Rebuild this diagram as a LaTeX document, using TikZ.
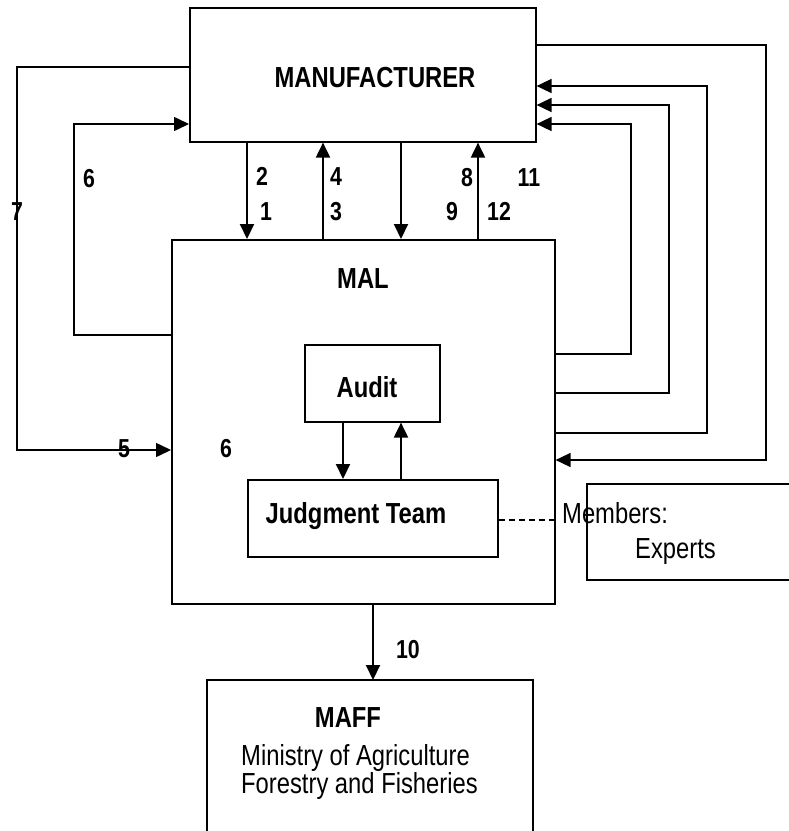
\documentclass[tikz,border=0pt]{standalone}
\usepackage{fontspec}
\setmainfont{Liberation Sans}[FakeStretch=0.82]
\usetikzlibrary{arrows.meta}
\tikzset{
  box/.style={draw, line width=1.6pt, inner sep=0pt, anchor=north west},
  arr/.style={line width=2pt, -{Triangle[length=15pt,width=14pt]}},
  loopline/.style={line width=1.6pt, -{Triangle[length=15pt,width=14pt]}},
  plain/.style={line width=1.5pt},
  lab/.style={font=\bfseries\fontsize{26}{29}\selectfont, anchor=base, inner sep=0pt},
  title/.style={font=\bfseries\fontsize{29}{32}\selectfont, anchor=base, inner sep=0pt},
  txt/.style={font=\fontsize{29}{33}\selectfont, anchor=base west, inner sep=0pt},
}
\begin{document}
\begin{tikzpicture}[x=1pt,y=-1pt]
\useasboundingbox (0,0) rectangle (789,831);
% boxes
\node[box, minimum width=346pt, minimum height=134pt] (man) at (189,7) {};
\node[box, minimum width=383pt, minimum height=364pt] (mal) at (171,239) {};
\node[box, minimum width=135pt, minimum height=77pt] (audit) at (304,344) {};
\node[box, minimum width=250pt, minimum height=77pt] (judg) at (247,479) {};
% open boxes cut by the page edge
\draw[plain] (207,831) -- (207,680) -- (533,680) -- (533,831);
\draw[plain] (789,484) -- (587,484) -- (587,580) -- (789,580);
\coordinate (maffN) at (373,680);
% texts
\node[title] (tman) at (375,87) {MANUFACTURER};
\node[title] (tmal) at (363,288) {MAL};
\node[title] (taud) at (367,397) {Audit};
\node[title] (tjud) at (356,523) {Judgment Team};
\node[title] (tmaff) at (348,727) {MAFF};
\node[txt] (tmin) at (241,765) {Ministry of Agriculture};
\node[txt] (tfor) at (241,793) {Forestry and Fisheries};
\node[txt] (tmem) at (562,523) {Members:};
\node[txt] (texp) at (635,558) {Experts};
% number labels
\node[lab] (l2) at (262,185) {2};
\node[lab] (l1) at (266,220) {1};
\node[lab] (l4) at (336,185) {4};
\node[lab] (l3) at (336,220) {3};
\node[lab] (l8) at (467,186) {8};
\node[lab] (l11) at (529,186) {11};
\node[lab] (l9) at (452,220) {9};
\node[lab] (l12) at (499,220) {12};
\node[lab] (l6a) at (89,187) {6};
\node[lab] (l7) at (17,220) {7};
\node[lab] (l5) at (124,457) {5};
\node[lab] (l6b) at (226,457) {6};
\node[lab] (l10) at (408,658) {10};
% helper coordinates
\coordinate (xa) at (247,0);
\coordinate (xb) at (323,0);
\coordinate (xc) at (401,0);
\coordinate (xd) at (478,0);
\coordinate (xj1) at (343,0);
\coordinate (xj2) at (401,0);
\coordinate (x10) at (373,0);
% vertical arrows between manufacturer and MAL
\draw[arr] (man.south -| xa) -- (mal.north -| xa);
\draw[arr] (mal.north -| xb) -- (man.south -| xb);
\draw[arr] (man.south -| xc) -- (mal.north -| xc);
\draw[arr] (mal.north -| xd) -- (man.south -| xd);
% audit / judgment
\draw[arr] (audit.south -| xj1) -- (judg.north -| xj1);
\draw[arr] (judg.north -| xj2) -- (audit.south -| xj2);
% MAL to MAFF
\draw[arr] (mal.south -| x10) -- (maffN);
% left loops
\coordinate (y7) at (0,67);
\coordinate (y5) at (0,450);
\coordinate (y6a) at (0,335);
\coordinate (y6b) at (0,124);
\draw[loopline] (man.west |- y7) -- (17,67) -- (17,450) -- (mal.west |- y5);
\draw[loopline] (mal.west |- y6a) -- (74,335) -- (74,124) -- (man.west |- y6b);
% right loops
\coordinate (r0a) at (0,45);
\coordinate (r0b) at (0,460);
\draw[loopline] (man.east |- r0a) -- (766,45) -- (766,460) -- (mal.east |- r0b);
\coordinate (r1a) at (0,354);
\coordinate (r1b) at (0,124);
\draw[loopline] (mal.east |- r1a) -- (631,354) -- (631,124) -- (man.east |- r1b);
\coordinate (r2a) at (0,393);
\coordinate (r2b) at (0,105);
\draw[loopline] (mal.east |- r2a) -- (669,393) -- (669,105) -- (man.east |- r2b);
\coordinate (r3a) at (0,433);
\coordinate (r3b) at (0,86);
\draw[loopline] (mal.east |- r3a) -- (707,433) -- (707,86) -- (man.east |- r3b);
% dashed link to members
\coordinate (y20) at (0,520);
\coordinate (dend) at (558,520);
\draw[line width=1.4pt, dash pattern=on 6pt off 4pt] (judg.east |- y20) -- (dend);
\end{tikzpicture}
\end{document}
